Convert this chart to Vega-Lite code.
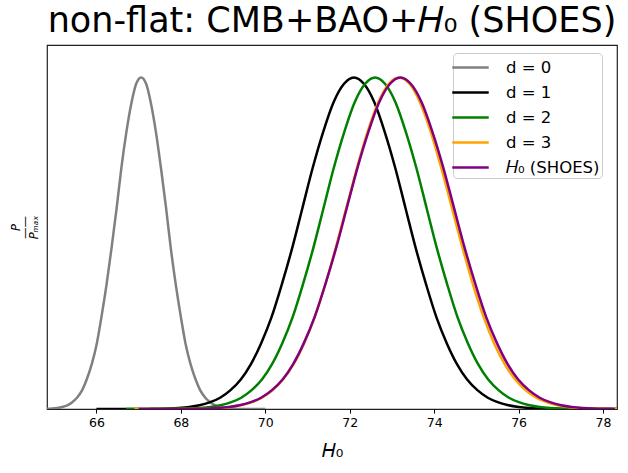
{
  "$schema": "https://vega.github.io/schema/vega-lite/v6.json",
  "width": 570,
  "height": 364,
  "autosize": "none",
  "padding": {"left": 47, "top": 45, "right": 11, "bottom": 64},
  "background": "white",
  "config": {
    "font": "DejaVu Sans",
    "view": {"stroke": "#222222", "strokeWidth": 1.2}
  },
  "title": {
    "text": "non-flat: CMB+BAO+𝐻₀ (SHOES)",
    "fontSize": 35,
    "fontWeight": "normal",
    "color": "black",
    "anchor": "middle",
    "offset": 6
  },
  "data": {
    "values": [
      {"s": "d = 0", "x": 64.72, "p": 0.0003},
      {"s": "d = 0", "x": 64.84, "p": 0.0007},
      {"s": "d = 0", "x": 64.95, "p": 0.0015},
      {"s": "d = 0", "x": 65.07, "p": 0.0031},
      {"s": "d = 0", "x": 65.19, "p": 0.006},
      {"s": "d = 0", "x": 65.31, "p": 0.0111},
      {"s": "d = 0", "x": 65.42, "p": 0.0198},
      {"s": "d = 0", "x": 65.54, "p": 0.034},
      {"s": "d = 0", "x": 65.66, "p": 0.0561},
      {"s": "d = 0", "x": 65.77, "p": 0.0889},
      {"s": "d = 0", "x": 65.89, "p": 0.1353},
      {"s": "d = 0", "x": 66.01, "p": 0.1979},
      {"s": "d = 0", "x": 66.12, "p": 0.278},
      {"s": "d = 0", "x": 66.24, "p": 0.3753},
      {"s": "d = 0", "x": 66.36, "p": 0.4868},
      {"s": "d = 0", "x": 66.48, "p": 0.6065},
      {"s": "d = 0", "x": 66.59, "p": 0.7261},
      {"s": "d = 0", "x": 66.71, "p": 0.8353},
      {"s": "d = 0", "x": 66.83, "p": 0.9231},
      {"s": "d = 0", "x": 66.94, "p": 0.9802},
      {"s": "d = 0", "x": 67.06, "p": 1.0},
      {"s": "d = 0", "x": 67.18, "p": 0.9802},
      {"s": "d = 0", "x": 67.29, "p": 0.9231},
      {"s": "d = 0", "x": 67.41, "p": 0.8353},
      {"s": "d = 0", "x": 67.53, "p": 0.7261},
      {"s": "d = 0", "x": 67.65, "p": 0.6065},
      {"s": "d = 0", "x": 67.76, "p": 0.4868},
      {"s": "d = 0", "x": 67.88, "p": 0.3753},
      {"s": "d = 0", "x": 68.0, "p": 0.278},
      {"s": "d = 0", "x": 68.11, "p": 0.1979},
      {"s": "d = 0", "x": 68.23, "p": 0.1353},
      {"s": "d = 0", "x": 68.35, "p": 0.0889},
      {"s": "d = 0", "x": 68.46, "p": 0.0561},
      {"s": "d = 0", "x": 68.58, "p": 0.034},
      {"s": "d = 0", "x": 68.7, "p": 0.0198},
      {"s": "d = 0", "x": 68.82, "p": 0.0111},
      {"s": "d = 0", "x": 68.93, "p": 0.006},
      {"s": "d = 0", "x": 69.05, "p": 0.0031},
      {"s": "d = 0", "x": 69.17, "p": 0.0015},
      {"s": "d = 0", "x": 69.28, "p": 0.0007},
      {"s": "d = 0", "x": 69.4, "p": 0.0003},
      {"s": "d = 0", "x": 70.0, "p": 0},

      {"s": "d = 1", "x": 66.0, "p": 0},
      {"s": "d = 1", "x": 67.22, "p": 0.0003},
      {"s": "d = 1", "x": 67.46, "p": 0.0007},
      {"s": "d = 1", "x": 67.71, "p": 0.0015},
      {"s": "d = 1", "x": 67.95, "p": 0.0031},
      {"s": "d = 1", "x": 68.2, "p": 0.006},
      {"s": "d = 1", "x": 68.44, "p": 0.0111},
      {"s": "d = 1", "x": 68.68, "p": 0.0198},
      {"s": "d = 1", "x": 68.93, "p": 0.034},
      {"s": "d = 1", "x": 69.17, "p": 0.0561},
      {"s": "d = 1", "x": 69.42, "p": 0.0889},
      {"s": "d = 1", "x": 69.66, "p": 0.1353},
      {"s": "d = 1", "x": 69.9, "p": 0.1979},
      {"s": "d = 1", "x": 70.15, "p": 0.278},
      {"s": "d = 1", "x": 70.39, "p": 0.3753},
      {"s": "d = 1", "x": 70.64, "p": 0.4868},
      {"s": "d = 1", "x": 70.88, "p": 0.6065},
      {"s": "d = 1", "x": 71.12, "p": 0.7261},
      {"s": "d = 1", "x": 71.37, "p": 0.8353},
      {"s": "d = 1", "x": 71.61, "p": 0.9231},
      {"s": "d = 1", "x": 71.86, "p": 0.9802},
      {"s": "d = 1", "x": 72.1, "p": 1.0},
      {"s": "d = 1", "x": 72.34, "p": 0.9802},
      {"s": "d = 1", "x": 72.59, "p": 0.9231},
      {"s": "d = 1", "x": 72.83, "p": 0.8353},
      {"s": "d = 1", "x": 73.08, "p": 0.7261},
      {"s": "d = 1", "x": 73.32, "p": 0.6065},
      {"s": "d = 1", "x": 73.56, "p": 0.4868},
      {"s": "d = 1", "x": 73.81, "p": 0.3753},
      {"s": "d = 1", "x": 74.05, "p": 0.278},
      {"s": "d = 1", "x": 74.3, "p": 0.1979},
      {"s": "d = 1", "x": 74.54, "p": 0.1353},
      {"s": "d = 1", "x": 74.78, "p": 0.0889},
      {"s": "d = 1", "x": 75.03, "p": 0.0561},
      {"s": "d = 1", "x": 75.27, "p": 0.034},
      {"s": "d = 1", "x": 75.52, "p": 0.0198},
      {"s": "d = 1", "x": 75.76, "p": 0.0111},
      {"s": "d = 1", "x": 76.0, "p": 0.006},
      {"s": "d = 1", "x": 76.25, "p": 0.0031},
      {"s": "d = 1", "x": 76.49, "p": 0.0015},
      {"s": "d = 1", "x": 76.74, "p": 0.0007},
      {"s": "d = 1", "x": 76.98, "p": 0.0003},
      {"s": "d = 1", "x": 78.33, "p": 0},

      {"s": "d = 2", "x": 66.7, "p": 0},
      {"s": "d = 2", "x": 67.72, "p": 0.0003},
      {"s": "d = 2", "x": 67.96, "p": 0.0007},
      {"s": "d = 2", "x": 68.21, "p": 0.0015},
      {"s": "d = 2", "x": 68.45, "p": 0.0031},
      {"s": "d = 2", "x": 68.7, "p": 0.006},
      {"s": "d = 2", "x": 68.94, "p": 0.0111},
      {"s": "d = 2", "x": 69.18, "p": 0.0198},
      {"s": "d = 2", "x": 69.43, "p": 0.034},
      {"s": "d = 2", "x": 69.67, "p": 0.0561},
      {"s": "d = 2", "x": 69.92, "p": 0.0889},
      {"s": "d = 2", "x": 70.16, "p": 0.1353},
      {"s": "d = 2", "x": 70.4, "p": 0.1979},
      {"s": "d = 2", "x": 70.65, "p": 0.278},
      {"s": "d = 2", "x": 70.89, "p": 0.3753},
      {"s": "d = 2", "x": 71.14, "p": 0.4868},
      {"s": "d = 2", "x": 71.38, "p": 0.6065},
      {"s": "d = 2", "x": 71.62, "p": 0.7261},
      {"s": "d = 2", "x": 71.87, "p": 0.8353},
      {"s": "d = 2", "x": 72.11, "p": 0.9231},
      {"s": "d = 2", "x": 72.36, "p": 0.9802},
      {"s": "d = 2", "x": 72.6, "p": 1.0},
      {"s": "d = 2", "x": 72.84, "p": 0.9802},
      {"s": "d = 2", "x": 73.09, "p": 0.9231},
      {"s": "d = 2", "x": 73.33, "p": 0.8353},
      {"s": "d = 2", "x": 73.58, "p": 0.7261},
      {"s": "d = 2", "x": 73.82, "p": 0.6065},
      {"s": "d = 2", "x": 74.06, "p": 0.4868},
      {"s": "d = 2", "x": 74.31, "p": 0.3753},
      {"s": "d = 2", "x": 74.55, "p": 0.278},
      {"s": "d = 2", "x": 74.8, "p": 0.1979},
      {"s": "d = 2", "x": 75.04, "p": 0.1353},
      {"s": "d = 2", "x": 75.28, "p": 0.0889},
      {"s": "d = 2", "x": 75.53, "p": 0.0561},
      {"s": "d = 2", "x": 75.77, "p": 0.034},
      {"s": "d = 2", "x": 76.02, "p": 0.0198},
      {"s": "d = 2", "x": 76.26, "p": 0.0111},
      {"s": "d = 2", "x": 76.5, "p": 0.006},
      {"s": "d = 2", "x": 76.75, "p": 0.0031},
      {"s": "d = 2", "x": 76.99, "p": 0.0015},
      {"s": "d = 2", "x": 77.24, "p": 0.0007},
      {"s": "d = 2", "x": 77.48, "p": 0.0003},
      {"s": "d = 2", "x": 78.33, "p": 0},

      {"s": "d = 3", "x": 66.9, "p": 0},
      {"s": "d = 3", "x": 68.17, "p": 0.0003},
      {"s": "d = 3", "x": 68.42, "p": 0.0007},
      {"s": "d = 3", "x": 68.67, "p": 0.0015},
      {"s": "d = 3", "x": 68.92, "p": 0.0031},
      {"s": "d = 3", "x": 69.17, "p": 0.006},
      {"s": "d = 3", "x": 69.42, "p": 0.0111},
      {"s": "d = 3", "x": 69.67, "p": 0.0198},
      {"s": "d = 3", "x": 69.92, "p": 0.034},
      {"s": "d = 3", "x": 70.17, "p": 0.0561},
      {"s": "d = 3", "x": 70.42, "p": 0.0889},
      {"s": "d = 3", "x": 70.67, "p": 0.1353},
      {"s": "d = 3", "x": 70.92, "p": 0.1979},
      {"s": "d = 3", "x": 71.17, "p": 0.278},
      {"s": "d = 3", "x": 71.42, "p": 0.3753},
      {"s": "d = 3", "x": 71.67, "p": 0.4868},
      {"s": "d = 3", "x": 71.92, "p": 0.6065},
      {"s": "d = 3", "x": 72.17, "p": 0.7261},
      {"s": "d = 3", "x": 72.42, "p": 0.8353},
      {"s": "d = 3", "x": 72.67, "p": 0.9231},
      {"s": "d = 3", "x": 72.92, "p": 0.9802},
      {"s": "d = 3", "x": 73.17, "p": 1.0},
      {"s": "d = 3", "x": 73.42, "p": 0.9802},
      {"s": "d = 3", "x": 73.67, "p": 0.9231},
      {"s": "d = 3", "x": 73.92, "p": 0.8353},
      {"s": "d = 3", "x": 74.17, "p": 0.7261},
      {"s": "d = 3", "x": 74.42, "p": 0.6065},
      {"s": "d = 3", "x": 74.67, "p": 0.4868},
      {"s": "d = 3", "x": 74.92, "p": 0.3753},
      {"s": "d = 3", "x": 75.17, "p": 0.278},
      {"s": "d = 3", "x": 75.42, "p": 0.1979},
      {"s": "d = 3", "x": 75.67, "p": 0.1353},
      {"s": "d = 3", "x": 75.92, "p": 0.0889},
      {"s": "d = 3", "x": 76.17, "p": 0.0561},
      {"s": "d = 3", "x": 76.42, "p": 0.034},
      {"s": "d = 3", "x": 76.67, "p": 0.0198},
      {"s": "d = 3", "x": 76.92, "p": 0.0111},
      {"s": "d = 3", "x": 77.17, "p": 0.006},
      {"s": "d = 3", "x": 77.42, "p": 0.0031},
      {"s": "d = 3", "x": 77.67, "p": 0.0015},
      {"s": "d = 3", "x": 77.92, "p": 0.0007},
      {"s": "d = 3", "x": 78.17, "p": 0.0003},
      {"s": "d = 3", "x": 78.33, "p": 0.0001},

      {"s": "𝐻₀ (SHOES)", "x": 67.0, "p": 0},
      {"s": "𝐻₀ (SHOES)", "x": 68.12, "p": 0.0003},
      {"s": "𝐻₀ (SHOES)", "x": 68.37, "p": 0.0007},
      {"s": "𝐻₀ (SHOES)", "x": 68.63, "p": 0.0015},
      {"s": "𝐻₀ (SHOES)", "x": 68.88, "p": 0.0031},
      {"s": "𝐻₀ (SHOES)", "x": 69.14, "p": 0.006},
      {"s": "𝐻₀ (SHOES)", "x": 69.39, "p": 0.0111},
      {"s": "𝐻₀ (SHOES)", "x": 69.64, "p": 0.0198},
      {"s": "𝐻₀ (SHOES)", "x": 69.9, "p": 0.034},
      {"s": "𝐻₀ (SHOES)", "x": 70.15, "p": 0.0561},
      {"s": "𝐻₀ (SHOES)", "x": 70.41, "p": 0.0889},
      {"s": "𝐻₀ (SHOES)", "x": 70.66, "p": 0.1353},
      {"s": "𝐻₀ (SHOES)", "x": 70.91, "p": 0.1979},
      {"s": "𝐻₀ (SHOES)", "x": 71.17, "p": 0.278},
      {"s": "𝐻₀ (SHOES)", "x": 71.42, "p": 0.3753},
      {"s": "𝐻₀ (SHOES)", "x": 71.68, "p": 0.4868},
      {"s": "𝐻₀ (SHOES)", "x": 71.93, "p": 0.6065},
      {"s": "𝐻₀ (SHOES)", "x": 72.18, "p": 0.7261},
      {"s": "𝐻₀ (SHOES)", "x": 72.44, "p": 0.8353},
      {"s": "𝐻₀ (SHOES)", "x": 72.69, "p": 0.9231},
      {"s": "𝐻₀ (SHOES)", "x": 72.95, "p": 0.9802},
      {"s": "𝐻₀ (SHOES)", "x": 73.2, "p": 1.0},
      {"s": "𝐻₀ (SHOES)", "x": 73.45, "p": 0.9802},
      {"s": "𝐻₀ (SHOES)", "x": 73.71, "p": 0.9231},
      {"s": "𝐻₀ (SHOES)", "x": 73.96, "p": 0.8353},
      {"s": "𝐻₀ (SHOES)", "x": 74.22, "p": 0.7261},
      {"s": "𝐻₀ (SHOES)", "x": 74.47, "p": 0.6065},
      {"s": "𝐻₀ (SHOES)", "x": 74.72, "p": 0.4868},
      {"s": "𝐻₀ (SHOES)", "x": 74.98, "p": 0.3753},
      {"s": "𝐻₀ (SHOES)", "x": 75.23, "p": 0.278},
      {"s": "𝐻₀ (SHOES)", "x": 75.49, "p": 0.1979},
      {"s": "𝐻₀ (SHOES)", "x": 75.74, "p": 0.1353},
      {"s": "𝐻₀ (SHOES)", "x": 75.99, "p": 0.0889},
      {"s": "𝐻₀ (SHOES)", "x": 76.25, "p": 0.0561},
      {"s": "𝐻₀ (SHOES)", "x": 76.5, "p": 0.034},
      {"s": "𝐻₀ (SHOES)", "x": 76.76, "p": 0.0198},
      {"s": "𝐻₀ (SHOES)", "x": 77.01, "p": 0.0111},
      {"s": "𝐻₀ (SHOES)", "x": 77.26, "p": 0.006},
      {"s": "𝐻₀ (SHOES)", "x": 77.52, "p": 0.0031},
      {"s": "𝐻₀ (SHOES)", "x": 77.77, "p": 0.0015},
      {"s": "𝐻₀ (SHOES)", "x": 78.03, "p": 0.0007},
      {"s": "𝐻₀ (SHOES)", "x": 78.28, "p": 0.0003}
    ]
  },
  "mark": {"type": "line", "interpolate": "monotone", "strokeWidth": 2.5, "clip": true},
  "encoding": {
    "x": {
      "field": "x",
      "type": "quantitative",
      "scale": {"domain": [64.83, 78.33], "nice": false, "zero": false},
      "axis": {
        "values": [66, 68, 70, 72, 74, 76, 78],
        "title": "𝐻₀",
        "titleFontSize": 19,
        "titleFontWeight": "normal",
        "titleColor": "black",
        "titlePadding": 13,
        "labelFontSize": 12.5,
        "labelColor": "black",
        "labelPadding": 3,
        "tickColor": "black",
        "tickSize": 4,
        "grid": false,
        "domain": false
      }
    },
    "y": {
      "field": "p",
      "type": "quantitative",
      "scale": {"domain": [0, 1.098], "nice": false},
      "axis": {
        "title": ["P", "——", "Pₘₐₓ"],
        "titleFontSize": 11.5,
        "titleFontStyle": "italic",
        "titleFontWeight": "normal",
        "titleColor": "black",
        "titleLineHeight": 9,
        "titlePadding": 8,
        "ticks": false,
        "labels": false,
        "grid": false,
        "domain": false
      }
    },
    "color": {
      "field": "s",
      "type": "nominal",
      "sort": null,
      "scale": {
        "domain": ["d = 0", "d = 1", "d = 2", "d = 3", "𝐻₀ (SHOES)"],
        "range": ["#808080", "#000000", "#008000", "#ffa500", "#800080"]
      },
      "legend": {
        "title": null,
        "orient": "none",
        "legendX": 406,
        "legendY": 8,
        "symbolType": "M-1.63,0H1.63",
        "symbolSize": 500,
        "symbolStrokeWidth": 2.5,
        "symbolOffset": 3,
        "labelFontSize": 16.5,
        "labelColor": "black",
        "labelOffset": 23,
        "labelLimit": 200,
        "rowPadding": 4,
        "padding": 2,
        "strokeColor": "#cccccc",
        "fillColor": "rgba(255,255,255,0.8)",
        "cornerRadius": 4
      }
    }
  }
}
